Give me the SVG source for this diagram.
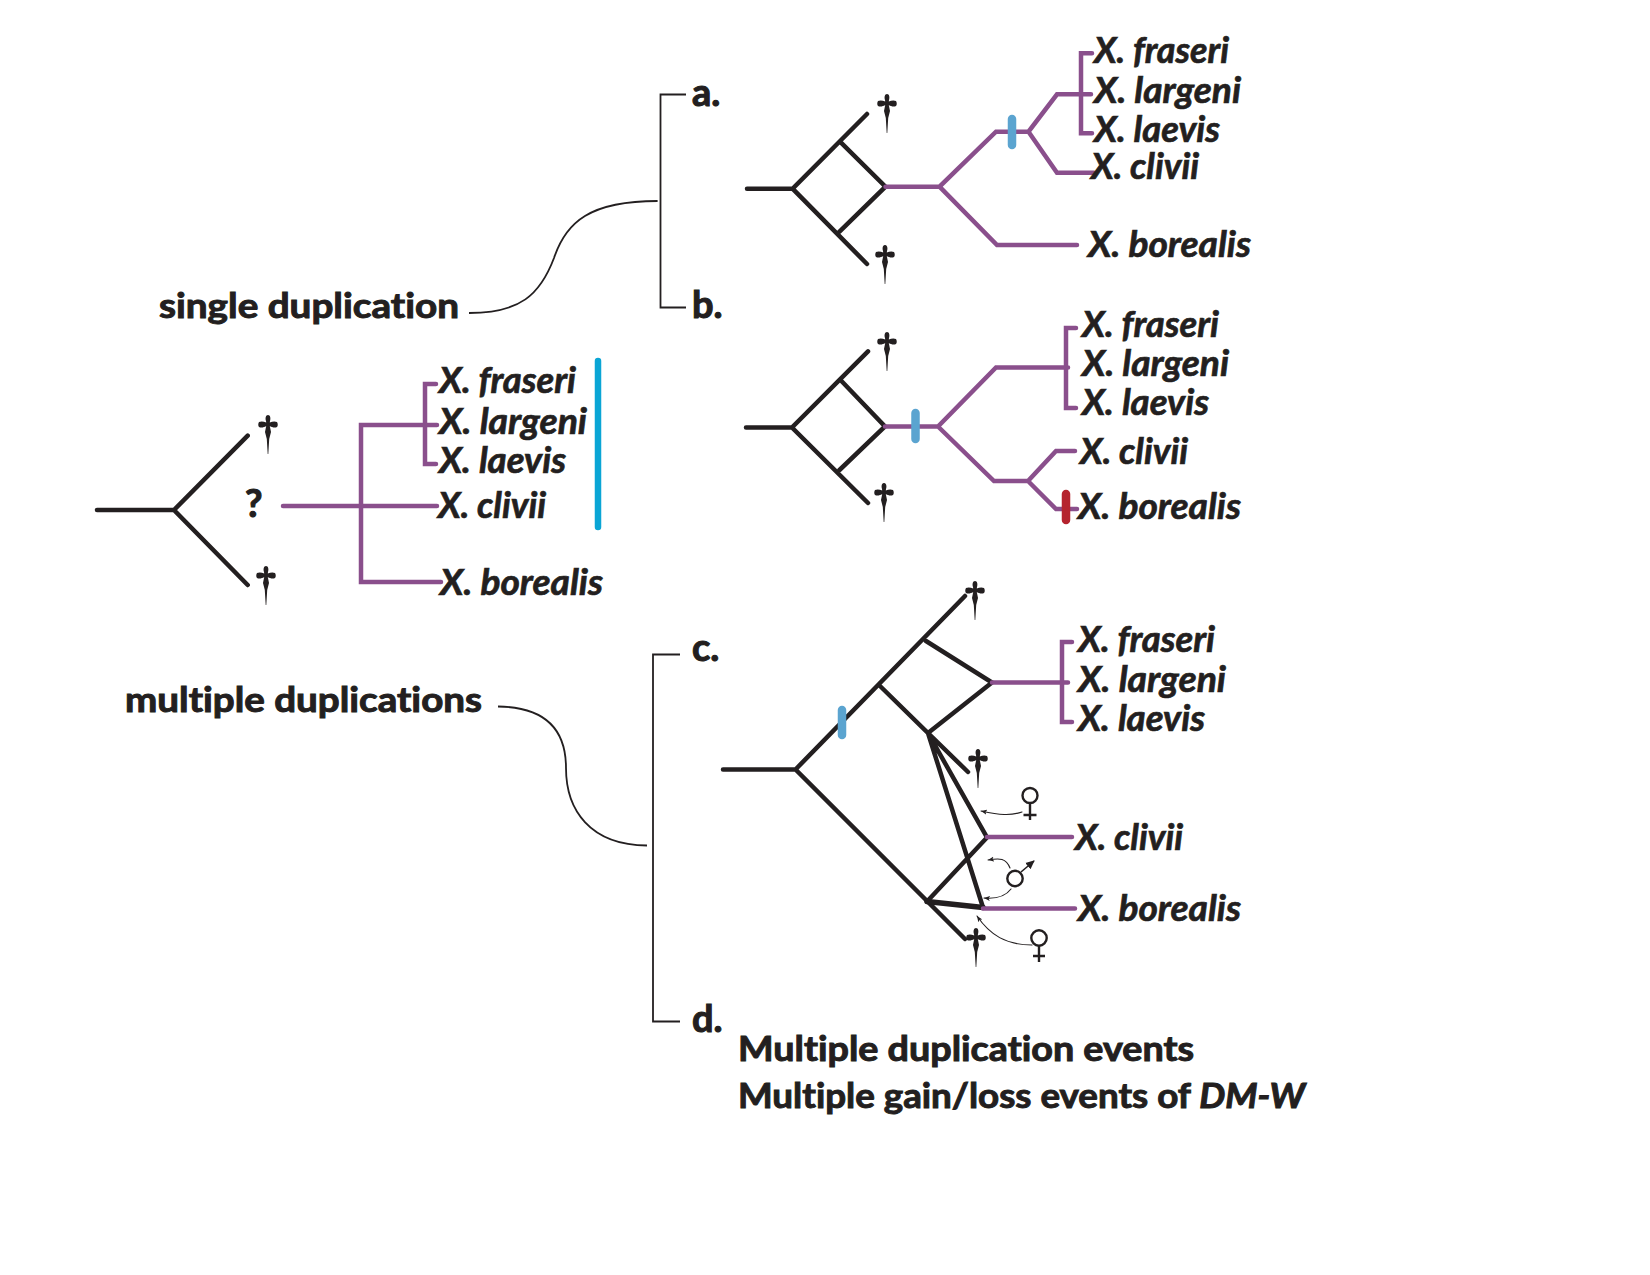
<svg xmlns="http://www.w3.org/2000/svg" xmlns:xlink="http://www.w3.org/1999/xlink" width="1650" height="1275" viewBox="0 0 1650 1275">
<style>
text{font-family:"Lato","Open Sans","Liberation Sans",sans-serif;fill:#231f20;stroke:#231f20;font-weight:700;font-variant-ligatures:none}
.sp{font-size:36px;font-style:italic;stroke-width:.7}
.lb{font-size:35px;stroke-width:1}
.tag{font-size:38px;stroke-width:1.1}
.pu,.bk,.th,.br{fill:none;stroke-linejoin:miter;stroke-linecap:round}
.pu{stroke:#8a4f8c;stroke-width:4.5}
.bk{stroke:#231f20;stroke-width:4.5}
.br{stroke:#231f20;stroke-width:1.8;stroke-linecap:butt}
.th{stroke:#231f20;stroke-width:1.1}
.tick{stroke:#5ba4d0;stroke-width:8.5;stroke-linecap:round;fill:none}
.sym{fill:none;stroke:#231f20;stroke-width:2.4}
</style>
<defs>
<path id="dag" fill="#231f20" d="M0 0C2.2 0 3 3 2 6L1.8 7.5C4 6.5 7 6 9 7C10 8.5 10 11 9 12C7 13 4 12.5 1.8 11L3 17L1.2 24L.3 39H-.3L-1.2 24L-3 17L-1.8 11C-4 12.5-7 13-9 12C-10 11-10 8.5-9 7C-7 6-4 6.5-1.8 7.5L-2 6C-3 3-2.2 0 0 0Z"/>
<marker id="ah" markerWidth="7" markerHeight="6" refX="6" refY="3" orient="auto" markerUnits="userSpaceOnUse"><path d="M0 .5L6 3L0 5.5L1.5 3Z" fill="#231f20"/></marker>
<marker id="ahb" markerWidth="10" markerHeight="9" refX="8" refY="4.5" orient="auto" markerUnits="userSpaceOnUse"><path d="M0 .5L9 4.5L0 8.5Z" fill="#231f20"/></marker>
</defs>
<g id="connectors">
<!-- brackets -->
<path class="br" d="M686 94.5H660.5V307.5H686"/>
<path class="br" d="M469 313C520 313 540 295 554 258C566 222 590 201 657.6 201"/>
<path class="br" d="M680 654.5H653V1021.5H680"/>
<path class="br" d="M498 706.5C540 707 566 725 566 768C566 810 590 845 647 845.5"/>
<!-- panel a -->
<path class="bk" d="M747 188.7H792.6M867 114L792.6 188.7L867 264M840 141.7L885.5 186.7L839.5 231.7"/>
<path class="pu" d="M885.5 186.7H939.5L996 131.7H1028.5L1057 94.3H1091M1028.5 131.7L1057 172.7H1094M939.5 186.7L997 245H1077M1092 53.3H1081V133.3H1092"/>
<path class="tick" d="M1012 119V145"/>
<!-- panel b -->
<path class="bk" d="M746 427.5H792M868 351.4L792 427.5L868 503M840.5 380L885 426.5L839.5 470"/>
<path class="pu" d="M885 426.5H938L996 367.5H1068M938 426.5L994 481H1028L1056 451H1075M1028 481L1056 509H1077M1076 328H1066V408H1076"/>
<path class="tick" d="M915.5 413V439"/>
<path class="tick" style="stroke:#b5232e" d="M1066 494V520"/>
<!-- left -->
<path class="bk" d="M97 510H174M247.7 435.7L174 510L247.7 585"/>
<path class="pu" d="M283 506H437M437 425H361V582H441M436 384H425V464H436"/>
<path class="tick" style="stroke:#0aa5d5;stroke-width:6.5" d="M598 361V527"/>
<!-- panel c -->
<path class="bk" d="M723 769.5H795.5L965 939M795.5 769.5L965 596M926 641L992 682.5L928 733L880 686M928 733L968 772M928 733L987 837.5L927 901.5M928 733L983 907.5"/>
<path class="bk" style="stroke-width:5.5" d="M927 901.5L983 907.5"/>
<path class="pu" d="M992 682.5H1068M1072 642H1062V722H1072M987 837H1072M983 908.5H1075"/>
<path class="tick" d="M842 710V735"/>
<path class="th" marker-end="url(#ah)" d="M1022 812C1010 816 1000 815 981 811"/>
<path class="th" marker-end="url(#ah)" d="M1010 868C1006 858 1000 858 988 860"/>
<path class="th" marker-end="url(#ah)" d="M1011 889C1005 897 995 899 984 898"/>
<path class="th" marker-end="url(#ah)" d="M1032 945C1006 945 990 935 977 916"/>
<path class="sym" style="stroke-width:1.6" marker-end="url(#ahb)" d="M1021 872L1034 861"/>
</g>
<g id="dagger-marks">
<use xlink:href="#dag" href="#dag" x="887" y="94"/>
<use xlink:href="#dag" href="#dag" x="885" y="245"/>
<use xlink:href="#dag" href="#dag" x="887" y="332"/>
<use xlink:href="#dag" href="#dag" x="884" y="483"/>
<use xlink:href="#dag" href="#dag" x="268" y="415"/>
<use xlink:href="#dag" href="#dag" x="266" y="566"/>
<use xlink:href="#dag" href="#dag" x="975" y="581"/>
<use xlink:href="#dag" href="#dag" x="978" y="749"/>
<use xlink:href="#dag" href="#dag" x="976" y="928"/>
</g>
<g id="sex-symbols">
<g class="sym"><circle cx="1030" cy="795.5" r="7.5"/><path d="M1030 803V820M1023.5 815H1036.5"/></g>
<g class="sym"><circle cx="1015" cy="878.5" r="7.7"/></g>
<g class="sym"><circle cx="1039" cy="938" r="7.7"/><path d="M1039 945.7V962M1033 956H1045"/></g>
</g>
<g id="label-single"><text class="lb" x="159" y="318" textLength="300" lengthAdjust="spacingAndGlyphs">single duplication</text></g>
<g id="label-multiple"><text class="lb" x="125" y="712" textLength="357" lengthAdjust="spacingAndGlyphs">multiple duplications</text></g>
<g id="label-a"><text class="tag" x="692" y="106">a.</text></g>
<g id="label-b"><text class="tag" x="692" y="318">b.</text></g>
<g id="label-c"><text class="tag" x="692" y="661">c.</text></g>
<g id="label-d"><text class="tag" x="692" y="1032">d.</text></g>
<g id="label-q"><text class="tag" x="245" y="517">?</text></g>
<g id="a-fraseri"><text class="sp" x="1094" y="63" textLength="135" lengthAdjust="spacingAndGlyphs">X. fraseri</text></g>
<g id="a-largeni"><text class="sp" x="1094" y="103" textLength="147" lengthAdjust="spacingAndGlyphs">X. largeni</text></g>
<g id="a-laevis"><text class="sp" x="1094" y="142" textLength="126" lengthAdjust="spacingAndGlyphs">X. laevis</text></g>
<g id="a-clivii"><text class="sp" x="1091" y="179" textLength="108" lengthAdjust="spacingAndGlyphs">X. clivii</text></g>
<g id="a-borealis"><text class="sp" x="1088" y="257" textLength="163" lengthAdjust="spacingAndGlyphs">X. borealis</text></g>
<g id="b-fraseri"><text class="sp" x="1082" y="337" textLength="137" lengthAdjust="spacingAndGlyphs">X. fraseri</text></g>
<g id="b-largeni"><text class="sp" x="1082" y="376" textLength="147" lengthAdjust="spacingAndGlyphs">X. largeni</text></g>
<g id="b-laevis"><text class="sp" x="1082" y="415" textLength="127" lengthAdjust="spacingAndGlyphs">X. laevis</text></g>
<g id="b-clivii"><text class="sp" x="1080" y="464" textLength="108" lengthAdjust="spacingAndGlyphs">X. clivii</text></g>
<g id="b-borealis"><text class="sp" x="1078" y="519" textLength="163" lengthAdjust="spacingAndGlyphs">X. borealis</text></g>
<g id="l-fraseri"><text class="sp" x="439" y="393" textLength="137" lengthAdjust="spacingAndGlyphs">X. fraseri</text></g>
<g id="l-largeni"><text class="sp" x="439" y="434" textLength="148" lengthAdjust="spacingAndGlyphs">X. largeni</text></g>
<g id="l-laevis"><text class="sp" x="439" y="473" textLength="127" lengthAdjust="spacingAndGlyphs">X. laevis</text></g>
<g id="l-clivii"><text class="sp" x="438" y="518" textLength="108" lengthAdjust="spacingAndGlyphs">X. clivii</text></g>
<g id="l-borealis"><text class="sp" x="440" y="595" textLength="163" lengthAdjust="spacingAndGlyphs">X. borealis</text></g>
<g id="c-fraseri"><text class="sp" x="1078" y="652" textLength="137" lengthAdjust="spacingAndGlyphs">X. fraseri</text></g>
<g id="c-largeni"><text class="sp" x="1078" y="692" textLength="148" lengthAdjust="spacingAndGlyphs">X. largeni</text></g>
<g id="c-laevis"><text class="sp" x="1078" y="731" textLength="127" lengthAdjust="spacingAndGlyphs">X. laevis</text></g>
<g id="c-clivii"><text class="sp" x="1075" y="850" textLength="108" lengthAdjust="spacingAndGlyphs">X. clivii</text></g>
<g id="c-borealis"><text class="sp" x="1078" y="921" textLength="163" lengthAdjust="spacingAndGlyphs">X. borealis</text></g>
<g id="summary">
<text class="lb" x="738" y="1061" textLength="456" lengthAdjust="spacingAndGlyphs">Multiple duplication events</text>
<text class="lb" x="738" y="1108" textLength="567" lengthAdjust="spacingAndGlyphs">Multiple gain/loss events of <tspan font-style="italic">DM-W</tspan></text>
</g>
</svg>
